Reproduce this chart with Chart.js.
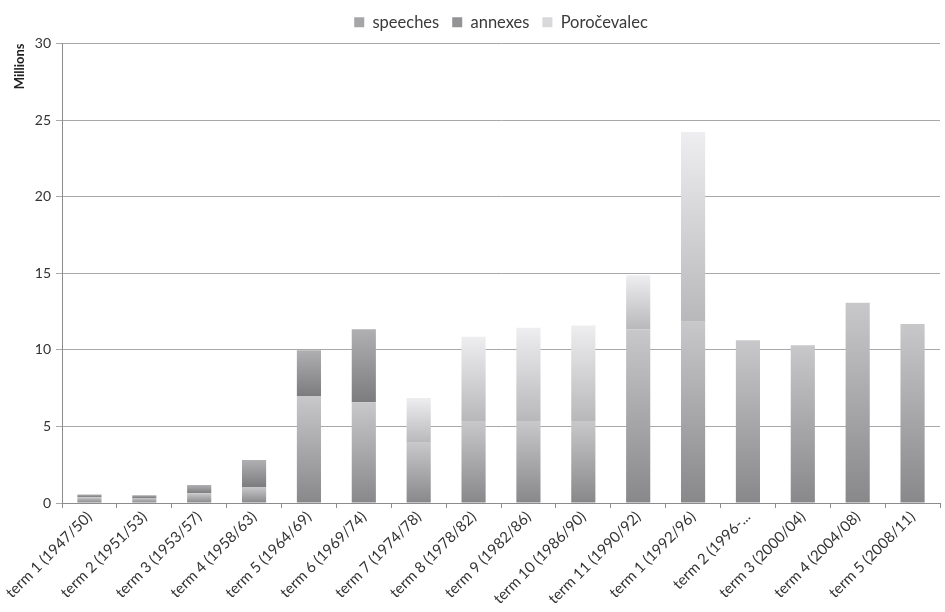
<!DOCTYPE html>
<html>
<head>
<meta charset="utf-8">
<script src="https://cdn.jsdelivr.net/npm/chart.js@4/dist/chart.umd.min.js"></script>
<style>
  html, body { margin: 0; padding: 0; background: #fff; }
  #wrap { width: 945px; height: 612px; }
</style>
</head>
<body>
<div id="wrap"><canvas id="c" width="945" height="612"></canvas></div>
<script>
const categories = ['term 1 (1947/50)', 'term 2 (1951/53)', 'term 3 (1953/57)', 'term 4 (1958/63)',
  'term 5 (1964/69)', 'term 6 (1969/74)', 'term 7 (1974/78)', 'term 8 (1978/82)', 'term 9 (1982/86)',
  'term 10 (1986/90)', 'term 11 (1990/92)', 'term 1 (1992/96)', 'term 2 (1996-...', 'term 3 (2000/04)',
  'term 4 (2004/08)', 'term 5 (2008/11)'];
const speeches    = [0.38, 0.33, 0.63, 1.04, 6.98, 6.57, 3.93, 5.35, 5.35, 5.35, 11.33, 11.83, 10.63, 10.30, 13.07, 11.68];
const annexes     = [0.18, 0.18, 0.54, 1.76, 3.00, 4.78, 0, 0, 0, 0, 0, 0, 0, 0, 0, 0];
const porocevalec = [0, 0, 0, 0, 0, 0, 2.92, 5.50, 6.09, 6.24, 3.54, 12.39, 0, 0, 0, 0];
const yTicks = [0, 5, 10, 15, 20, 25, 30];

const seriesList = [speeches, annexes, porocevalec];
const palettes = [
  { top: '#c8c8ca', bottom: '#88888b', flat: '#a6a6a8' },
  { top: '#b0b0b2', bottom: '#7c7c7f', flat: '#939396' },
  { top: '#eeeef0', bottom: '#b8b8ba', flat: '#d8d8da' }
];

function gradFor(dsIndex) {
  return function (ctx) {
    const p = palettes[dsIndex];
    if (ctx.type !== 'data') return p.flat;
    const chart = ctx.chart;
    const ys = chart.scales && chart.scales.y;
    if (!chart.chartArea || !ys) return p.flat;
    const i = ctx.dataIndex;
    let start = 0;
    for (let k = 0; k < dsIndex; k++) start += seriesList[k][i] || 0;
    const end = start + (seriesList[dsIndex][i] || 0);
    const y0 = ys.getPixelForValue(start);
    const y1 = ys.getPixelForValue(end);
    if (!isFinite(y0) || !isFinite(y1) || Math.abs(y0 - y1) < 0.5) return p.flat;
    const g = chart.ctx.createLinearGradient(0, y0, 0, y1);
    g.addColorStop(0, p.bottom);
    g.addColorStop(1, p.top);
    return g;
  };
}

const FONT = 'Lato, "Open Sans", "DejaVu Sans", sans-serif';

// Centre the legend over the plot area rather than the whole canvas, nudged up slightly
const legendOverPlot = {
  id: 'legendOverPlot',
  afterLayout: function (chart) {
    if (chart.legend && chart.chartArea) {
      chart.legend.left = chart.chartArea.left;
      chart.legend.right = chart.chartArea.right;
      chart.legend.top -= 3;
      chart.legend.bottom -= 3;
    }
  }
};

new Chart(document.getElementById('c'), {
  type: 'bar',
  data: {
    labels: categories,
    datasets: [
      { label: 'speeches', data: speeches, backgroundColor: gradFor(0), borderWidth: 0 },
      { label: 'annexes', data: annexes, backgroundColor: gradFor(1), borderWidth: 0 },
      { label: 'Poročevalec', data: porocevalec, backgroundColor: gradFor(2), borderWidth: 0 }
    ]
  },
  plugins: [legendOverPlot],
  options: {
    responsive: false,
    animation: false,
    devicePixelRatio: 1,
    layout: { padding: { top: 4, right: 5, left: 0, bottom: 0 } },
    datasets: { bar: { barPercentage: 0.44, categoryPercentage: 1.0 } },
    plugins: {
      tooltip: { enabled: false },
      legend: {
        position: 'top',
        labels: {
          font: { family: FONT, size: 16.5 },
          color: '#3a3a3a',
          boxWidth: 10,
          boxHeight: 10,
          padding: 13,
          generateLabels: function (chart) {
            return chart.data.datasets.map((ds, i) => ({
              text: ds.label,
              fillStyle: palettes[i].flat,
              strokeStyle: palettes[i].flat,
              lineWidth: 0,
              hidden: false,
              datasetIndex: i,
              fontColor: '#3a3a3a'
            }));
          }
        }
      }
    },
    scales: {
      x: {
        stacked: true,
        offset: true,
        grid: { drawOnChartArea: false, drawTicks: true, tickLength: 5, color: '#8c8c8c', offset: true },
        border: { display: true, color: '#8c8c8c', width: 1 },
        ticks: {
          font: { family: FONT, size: 15 },
          color: '#333',
          minRotation: 45,
          maxRotation: 45,
          autoSkip: false,
          padding: 0
        },
        afterFit: function (scale) { scale.height = 109; }
      },
      y: {
        stacked: true,
        min: 0,
        max: 30,
        afterBuildTicks: function (scale) { scale.ticks = yTicks.map(v => ({ value: v })); },
        grid: { color: '#a8a8a8', lineWidth: 1, drawTicks: true, tickLength: 6 },
        border: { display: true, color: '#8c8c8c', width: 1 },
        ticks: {
          font: { family: FONT, size: 14 },
          color: '#333',
          padding: 5
        },
        title: {
          display: true,
          text: 'Millions',
          align: 'end',
          font: { family: FONT, size: 13, weight: 'bold' },
          color: '#222',
          padding: { top: 12, bottom: 2 }
        },
        afterFit: function (scale) { scale.width = 62; }
      }
    }
  }
});
</script>
</body>
</html>
